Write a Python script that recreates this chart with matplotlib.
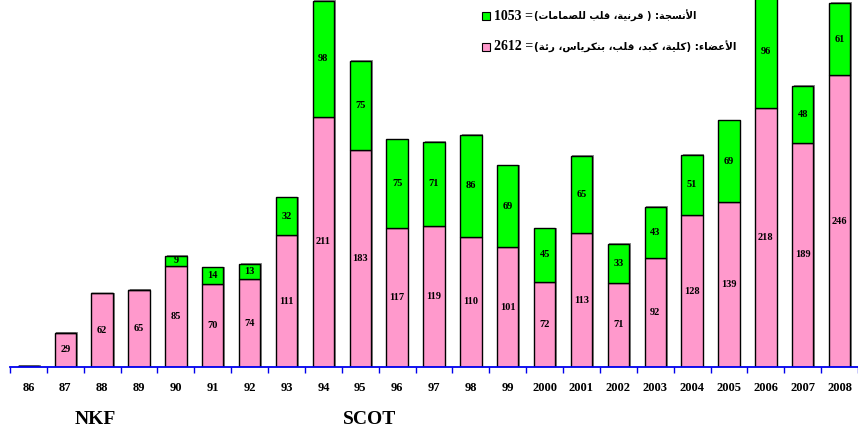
import re
import matplotlib
matplotlib.use("Agg")
import matplotlib.pyplot as plt
from matplotlib.patches import Rectangle
from matplotlib import font_manager

years = ["86", "87", "88", "89", "90", "91", "92", "93", "94", "95", "96", "97",
         "98", "99", "2000", "2001", "2002", "2003", "2004", "2005", "2006", "2007", "2008"]
organs = [1, 29, 62, 65, 85, 70, 74, 111, 211, 183, 117, 119, 110, 101, 72, 113,
          71, 92, 128, 139, 218, 189, 246]
tissues = [0, 0, 0, 0, 9, 14, 13, 32, 98, 75, 75, 71, 86, 69, 45, 65, 33, 43, 51,
           69, 96, 48, 61]
legend_tissues = "الأنسجة: ( قرنية، قلب للصمامات)= 1053"
legend_organs = "الأعضاء: (كلية، كبد، قلب، بنكرياس، رئة)= 2612"
group_labels = ["NKF", "SCOT"]

# ---- minimal Arabic shaping + visual ordering (matplotlib does no shaping) ----
FORMS = {
    'ا': (0xFE8D, 0xFE8E, None, None), 'أ': (0xFE83, 0xFE84, None, None),
    'ب': (0xFE8F, 0xFE90, 0xFE91, 0xFE92), 'ة': (0xFE93, 0xFE94, None, None),
    'ت': (0xFE95, 0xFE96, 0xFE97, 0xFE98), 'ج': (0xFE9D, 0xFE9E, 0xFE9F, 0xFEA0),
    'د': (0xFEA9, 0xFEAA, None, None), 'ر': (0xFEAD, 0xFEAE, None, None),
    'س': (0xFEB1, 0xFEB2, 0xFEB3, 0xFEB4), 'ص': (0xFEB9, 0xFEBA, 0xFEBB, 0xFEBC),
    'ض': (0xFEBD, 0xFEBE, 0xFEBF, 0xFEC0), 'ع': (0xFEC9, 0xFECA, 0xFECB, 0xFECC),
    'ق': (0xFED5, 0xFED6, 0xFED7, 0xFED8), 'ك': (0xFED9, 0xFEDA, 0xFEDB, 0xFEDC),
    'ل': (0xFEDD, 0xFEDE, 0xFEDF, 0xFEE0), 'م': (0xFEE1, 0xFEE2, 0xFEE3, 0xFEE4),
    'ن': (0xFEE5, 0xFEE6, 0xFEE7, 0xFEE8), 'ي': (0xFEF1, 0xFEF2, 0xFEF3, 0xFEF4),
    'ئ': (0xFE89, 0xFE8A, 0xFE8B, 0xFE8C), 'ء': (0xFE80, None, None, None),
    'LA': (0xFEFB, 0xFEFC, None, None), 'LAH': (0xFEF7, 0xFEF8, None, None),
}


def shape(text):
    toks = []
    i = 0
    while i < len(text):
        c = text[i]
        if c == 'ل' and i + 1 < len(text) and text[i + 1] in 'اأ':
            toks.append('LA' if text[i + 1] == 'ا' else 'LAH')
            i += 2
        else:
            toks.append(c)
            i += 1
    out = []
    for k, t in enumerate(toks):
        if t not in FORMS:
            out.append(t)
            continue
        f = FORMS[t]
        prev = toks[k - 1] if k > 0 else None
        nxt = toks[k + 1] if k + 1 < len(toks) else None
        jp = prev in FORMS and FORMS[prev][2] is not None and f[1] is not None
        jn = f[2] is not None and nxt in FORMS and FORMS[nxt][1] is not None
        if jp and jn:
            cp = f[3]
        elif jp:
            cp = f[1]
        elif jn:
            cp = f[2]
        else:
            cp = f[0]
        out.append(chr(cp))
    s = ''.join(out)[::-1]
    s = re.sub(r'[0-9]+', lambda m: m.group(0)[::-1], s)
    s = s.translate(str.maketrans('()', ')('))
    return s


installed = {f.name for f in font_manager.fontManager.ttflist}
arabic_family = ['DejaVu Sans Condensed', 'DejaVu Sans'] \
    if 'DejaVu Sans Condensed' in installed else ['DejaVu Sans']

W, H = 858, 437
fig = plt.figure(figsize=(W / 100, H / 100), dpi=100)
ax = fig.add_axes([10 / W, 70 / H, 848 / W, 367 / H])

x = list(range(len(years)))
bw = 0.58
pink = '#ff99cc'
green = '#00ff00'
shadow_dx = 0.045

tops = [o + t for o, t in zip(organs, tissues)]
ax.bar([xi + shadow_dx for xi in x], [t + 0.6 for t in tops], width=bw,
       color='#8c8c8c', edgecolor='none', zorder=1)
ax.bar(x, organs, width=bw, color=pink, edgecolor='black', linewidth=1.0, zorder=2)
ax.bar(x, tissues, width=bw, bottom=organs, color=green, edgecolor='black',
       linewidth=1.0, zorder=2)

lab_font = dict(family='Liberation Serif', weight='bold', fontsize=7.5,
                ha='center', va='center', zorder=3)
for xi, o, t in zip(x, organs, tissues):
    if o >= 5:
        ax.text(xi, o / 2, str(o), **lab_font)
    if t > 0:
        ax.text(xi, o + t / 2, str(t), **lab_font)

ax.set_xlim(-0.5, len(years) - 0.5)
ax.set_ylim(0, 309.5)
for s in ['top', 'right', 'left']:
    ax.spines[s].set_visible(False)
ax.spines['bottom'].set_color('#0000ee')
ax.spines['bottom'].set_linewidth(1.3)
ax.set_yticks([])
ax.set_xticks(x)
ax.set_xticklabels(years, family='Liberation Serif', weight='bold', fontsize=9)
ax.tick_params(axis='x', which='major', length=0, pad=11)
ax.set_xticks([xi - 0.5 for xi in x] + [len(years) - 0.5], minor=True)
ax.tick_params(axis='x', which='minor', length=4, color='#0000ee', width=1.0,
               direction='out')

fig.text(95 / W, 1 - 420 / H, group_labels[0], family='Liberation Serif',
         weight='bold', fontsize=14, ha='center', va='center')
fig.text(370 / W, 1 - 420 / H, group_labels[1], family='Liberation Serif',
         weight='bold', fontsize=14, ha='center', va='center')

renderer = fig.canvas.get_renderer()
for yy, col, txt, right_px in [(16, green, legend_tissues, 697),
                               (47, pink, legend_organs, 737)]:
    fig.patches.append(Rectangle((482 / W, 1 - (yy + 4) / H), 8 / W, 8 / H,
                                 transform=fig.transFigure, facecolor=col,
                                 edgecolor='black', linewidth=0.8))
    vis = shape(txt)
    cut = vis.index('(')
    head, tail = vis[:cut], vis[cut:]
    t1 = fig.text(494 / W, 1 - yy / H, head, family='Liberation Serif',
                  weight='bold', fontsize=10, ha='left', va='center')
    bb = t1.get_window_extent(renderer)
    x0 = bb.x1 + 1
    fs = 9.0
    t2 = fig.text(x0 / W, 1 - yy / H, tail,
                  family=arabic_family, weight='bold',
                  fontsize=fs, ha='left', va='center')
    for _ in range(4):
        w = t2.get_window_extent(renderer).width
        fs = fs * (right_px - x0) / w
        t2.set_fontsize(fs)

fig.savefig('out.png', dpi=100)
